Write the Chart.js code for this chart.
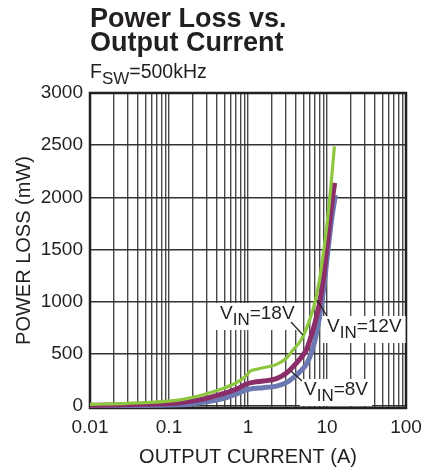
<!DOCTYPE html>
<html><head><meta charset="utf-8">
<script src="https://cdn.jsdelivr.net/npm/chart.js@4.4.1/dist/chart.umd.min.js"></script>
<style>html,body{margin:0;padding:0;background:#fff;}canvas{display:block}</style>
</head><body>
<canvas id="c" width="433" height="472"></canvas>
<script>
// ---- text ----
const titleLines = ['Power Loss vs.', 'Output Current'];
const subtitleParts = ['F', 'SW', '=500kHz'];
const xAxisTitle = 'OUTPUT CURRENT (A)';
const yAxisTitle = 'POWER LOSS (mW)';
// ---- ticks ----
const xTickValues = [0.01, 0.1, 1, 10, 100];
const xTickLabels = ['0.01', '0.1', '1', '10', '100'];
const xMinorMultipliers = [2, 3, 4, 5, 6, 7, 8, 9];
const yTickValues = [0, 500, 1000, 1500, 2000, 2500, 3000];
const yTickLabels = ['0', '500', '1000', '1500', '2000', '2500', '3000'];
// ---- series ----
const seriesVoltages = ['18V', '12V', '8V'];
const current18 = [0.01,0.02,0.05,0.1,0.15,0.25,0.45,0.7,0.9,1.0,1.06,1.3,1.6,2.3,3.1,3.75,4.4,5.0,6.0,7.0,8.0,9.0,10.0,10.7,11.5,12.4];
const loss18    = [14,20,32,46,63,100,160,220,275,310,332,352,368,398,462,541,600,670,820,985,1200,1467,1740,1948,2200,2488];
const current12 = [0.01,0.02,0.05,0.1,0.138,0.25,0.44,0.72,0.96,1.2,1.56,2.3,3.1,4.1,5.0,5.5,6.1,7.0,8.0,9.0,9.7,10.5,11.5,12.5];
const loss12    = [6,9,15,22,31,60,108,162,210,228,238,262,318,410,490,540,635,790,975,1215,1435,1665,1940,2138];
const current8  = [0.01,0.05,0.1,0.138,0.25,0.44,0.72,0.96,1.2,1.56,2.3,3.1,4.1,5.0,5.5,6.1,7.0,8.0,9.0,9.7,10.5,11.5,12.8];
const loss8     = [2,5,8,10,31,62,115,155,168,175,190,225,296,359,402,475,620,840,1100,1320,1550,1800,2020];

const FONT = '"Liberation Sans", Arial, Helvetica, sans-serif';
const INK = '#231f20';
Chart.defaults.font.family = FONT;
Chart.defaults.color = INK;

const toPts = (xs, ys) => xs.map((x, i) => ({x, y: ys[i]}));
const allXTicks = [];
xTickValues.slice(0, -1).forEach(d => { allXTicks.push(d); xMinorMultipliers.forEach(m => allXTicks.push(m * d)); });
allXTicks.push(xTickValues[xTickValues.length - 1]);

function drawParts(ctx, x, y, parts) {
  for (const p of parts) {
    ctx.font = (p.bold ? 'bold ' : '') + p.size + 'px ' + FONT;
    ctx.fillText(p.t, x, y + (p.dy || 0));
    x += ctx.measureText(p.t).width;
  }
  return x;
}

const decor = {
  id: 'decor',
  beforeDatasetsDraw(chart) {
    const {ctx, chartArea: a} = chart;
    ctx.save();
    ctx.strokeStyle = INK; ctx.lineWidth = 2.5;
    ctx.strokeRect(a.left, a.top, a.right - a.left, a.bottom - a.top);
    ctx.restore();
  },
  afterDatasetsDraw(chart, args, opts) {
    const {ctx} = chart;
    ctx.save();
    ctx.fillStyle = INK; ctx.textBaseline = 'alphabetic'; ctx.textAlign = 'left';
    // titles
    drawParts(ctx, 90, 27, [{t: titleLines[0], size: 27, bold: true}]);
    drawParts(ctx, 90, 51, [{t: titleLines[1], size: 27, bold: true}]);
    drawParts(ctx, 90, 78, [{t: subtitleParts[0], size: 19.5}, {t: subtitleParts[1], size: 17, dy: 6}, {t: subtitleParts[2], size: 19.5}]);
    // series labels
    opts.labels.forEach((L, i) => {
      const parts = [{t: 'V', size: 19}, {t: 'IN', size: 17, dy: 6}, {t: '=' + seriesVoltages[i], size: 19}];
      let w = 0;
      parts.forEach(p => { ctx.font = p.size + 'px ' + FONT; w += ctx.measureText(p.t).width; });
      ctx.fillStyle = '#fff';
      ctx.fillRect(L.x - 4, L.y - 16, w + 8, 27);
      ctx.fillStyle = INK;
      drawParts(ctx, L.x, L.y, parts);
      ctx.strokeStyle = INK; ctx.lineWidth = 1.2;
      ctx.beginPath(); ctx.moveTo(L.lead[0], L.lead[1]); ctx.lineTo(L.lead[2], L.lead[3]); ctx.stroke();
    });
    ctx.restore();
  }
};

new Chart(document.getElementById('c'), {
  type: 'line',
  data: {
    datasets: [
      {label: 'VIN=' + seriesVoltages[0], data: toPts(current18, loss18), borderColor: '#8dc63f', borderWidth: 3.2, order: 1},
      {label: 'VIN=' + seriesVoltages[1], data: toPts(current12, loss12), borderColor: '#8b2d68', borderWidth: 5, order: 2},
      {label: 'VIN=' + seriesVoltages[2], data: toPts(current8, loss8), borderColor: '#6b78b2', borderWidth: 5, order: 3}
    ]
  },
  options: {
    responsive: false,
    animation: false,
    layout: {padding: {left: 0, right: 27, top: 93, bottom: 0}},
    elements: {point: {radius: 0}, line: {cubicInterpolationMode: 'monotone', borderCapStyle: 'butt'}},
    plugins: {
      legend: {display: false}, tooltip: {enabled: false},
      decor: {labels: [
        {x: 220, y: 319, lead: [291, 322, 303, 335]},
        {x: 327, y: 332, lead: [317, 300, 327, 316]},
        {x: 304, y: 395, lead: [291, 371, 302, 381]}
      ]}
    },
    scales: {
      x: {
        type: 'logarithmic', min: 0.01, max: 100,
        afterBuildTicks: s => { s.ticks = allXTicks.map(v => ({value: v})); },
        afterFit: s => { s.height = 64; },
        border: {display: false},
        grid: {color: '#4a4a4a', lineWidth: 1.4, drawTicks: false},
        ticks: {
          autoSkip: false, maxRotation: 0, minRotation: 0, padding: 8, color: INK, font: {size: 19},
          callback: v => { const i = xTickValues.findIndex(t => Math.abs(t - v) / t < 1e-6); return i >= 0 ? xTickLabels[i] : ''; }
        },
        title: {display: true, text: xAxisTitle, color: INK, font: {size: 20}, padding: {top: 0, bottom: 3}}
      },
      y: {
        type: 'linear', min: -20, max: 3000,
        afterBuildTicks: s => { s.ticks = yTickValues.map(v => ({value: v})); },
        afterFit: s => { s.width = 90; },
        border: {display: false},
        grid: {color: '#333', lineWidth: 1.4, drawTicks: false},
        ticks: {padding: 7, color: INK, font: {size: 19},
          callback: v => { const i = yTickValues.indexOf(v); return i >= 0 ? yTickLabels[i] : ''; }},
        title: {display: true, text: yAxisTitle, color: INK, font: {size: 20}, padding: {top: 12, bottom: 0}}
      }
    }
  },
  plugins: [decor]
});
</script>
</body></html>
